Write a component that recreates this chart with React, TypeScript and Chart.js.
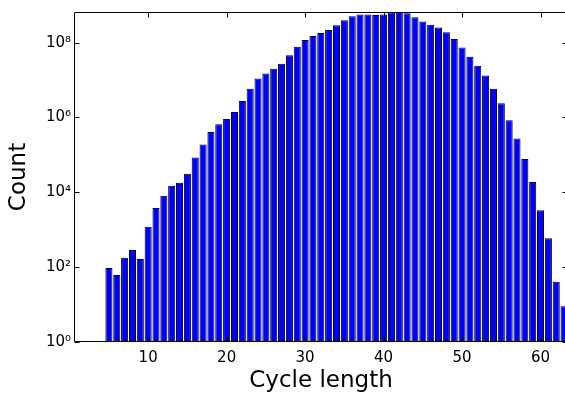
import React, { useEffect, useRef } from 'react';
import { Chart, registerables } from 'chart.js';

Chart.register(...registerables);

const cycleLengths = [
  5, 6, 7, 8, 9, 10, 11, 12, 13, 14,
  15, 16, 17, 18, 19, 20, 21, 22, 23, 24,
  25, 26, 27, 28, 29, 30, 31, 32, 33, 34,
  35, 36, 37, 38, 39, 40, 41, 42, 43, 44,
  45, 46, 47, 48, 49, 50, 51, 52, 53, 54,
  55, 56, 57, 58, 59, 60, 61, 62, 63,
];

const counts = [
  95, 62, 178, 286, 165, 1200, 3800, 8150, 15000, 18000,
  31600, 85000, 190000, 412000, 660000, 910000, 1.4e6, 2.75e6, 5.9e6, 1.1e7,
  1.5e7, 2.0e7, 2.74e7, 4.6e7, 7.8e7, 1.18e8, 1.5e8, 1.8e8, 2.17e8, 2.94e8,
  4.0e8, 5.1e8, 5.7e8, 5.7e8, 5.5e8, 5.7e8, 6.4e8, 6.6e8, 6.1e8, 4.8e8,
  3.7e8, 3.0e8, 2.56e8, 1.9e8, 1.26e8, 7.4e7, 4.2e7, 2.4e7, 1.32e7, 5.9e6,
  2.4e6, 8.5e5, 2.75e5, 7.8e4, 1.9e4, 3300, 590, 41, 9,
];

const xTickValues = [10, 20, 30, 40, 50, 60];
const yTickValues = [1, 1e2, 1e4, 1e6, 1e8];
const yTickLabels = ['10⁰', '10²', '10⁴', '10⁶', '10⁸'];

const xLabel = 'Cycle length';
const yLabel = 'Count';

const FONT = '"DejaVu Sans", "Liberation Sans", Arial, sans-serif';

const boxPlugin = {
  id: 'matlabBox',
  afterDatasetsDraw(chart: any) {
    const { ctx, chartArea: a, scales } = chart;
    const L = Math.floor(a.left) + 0.5;
    const R = Math.floor(a.right) - 0.5;
    const T = Math.floor(a.top) + 0.5;
    const B = Math.floor(a.bottom) - 0.5;
    const tl = 5;
    ctx.save();
    ctx.strokeStyle = '#000';
    ctx.lineWidth = 1;
    ctx.beginPath();
    ctx.moveTo(L, T);
    ctx.lineTo(R, T);
    ctx.lineTo(R, B);
    ctx.lineTo(L, B);
    ctx.closePath();
    const xs = scales.x;
    xs.ticks.forEach((t: any) => {
      const px = Math.round(xs.getPixelForValue(t.value)) + 0.5;
      ctx.moveTo(px, B);
      ctx.lineTo(px, B - tl);
      ctx.moveTo(px, T);
      ctx.lineTo(px, T + tl);
    });
    const ys = scales.y;
    ys.ticks.forEach((t: any) => {
      const py = Math.round(ys.getPixelForValue(t.value)) + 0.5;
      ctx.moveTo(L, py);
      ctx.lineTo(L + tl, py);
      ctx.moveTo(R, py);
      ctx.lineTo(R - tl, py);
    });
    ctx.stroke();
    ctx.restore();
  },
};

export default function App() {
  const canvasRef = useRef<HTMLCanvasElement | null>(null);

  useEffect(() => {
    const canvas = canvasRef.current;
    if (!canvas) return;
    const chart = new Chart(canvas, {
      type: 'bar',
      data: {
        datasets: [
          {
            data: cycleLengths.map((x, i) => ({ x, y: counts[i] })),
            backgroundColor: '#0000ff',
            borderColor: '#000000',
            borderWidth: 1,
            barPercentage: 0.9,
            categoryPercentage: 1,
          },
        ],
      },
      options: {
        responsive: false,
        animation: false,
        events: [],
        layout: { padding: { top: 9, left: 0, right: 1, bottom: 0 } },
        plugins: {
          legend: { display: false },
          tooltip: { enabled: false },
        },
        scales: {
          x: {
            type: 'linear',
            min: 0.55,
            max: 63.5,
            offset: false,
            grid: { display: false, drawTicks: false },
            border: { display: false },
            afterBuildTicks: (scale: any) => {
              scale.ticks = xTickValues.map((v) => ({ value: v }));
            },
            afterFit: (scale: any) => {
              scale.height = 53;
            },
            ticks: {
              padding: 7,
              color: '#000',
              font: { family: FONT, size: 15 },
              maxRotation: 0,
              autoSkip: false,
              callback: (v: any) => String(v),
            },
            title: {
              display: true,
              text: xLabel,
              color: '#000',
              font: { family: FONT, size: 23 },
              padding: { top: 0, bottom: 0 },
            },
          },
          y: {
            type: 'logarithmic',
            min: 1,
            max: 6.6e8,
            grid: { display: false, drawTicks: false },
            border: { display: false },
            afterBuildTicks: (scale: any) => {
              scale.ticks = yTickValues.map((v) => ({ value: v }));
            },
            afterFit: (scale: any) => {
              scale.width = 74;
            },
            ticks: {
              padding: 3,
              color: '#000',
              font: { family: FONT, size: 15 },
              autoSkip: false,
              callback: (v: any) => {
                const i = yTickValues.indexOf(Number(v));
                return i >= 0 ? yTickLabels[i] : '';
              },
            },
            title: {
              display: true,
              text: yLabel,
              color: '#000',
              font: { family: FONT, size: 23 },
              padding: { top: 5, bottom: 0 },
            },
          },
        },
      },
      plugins: [boxPlugin],
    } as any);
    return () => chart.destroy();
  }, []);

  return (
    <div
      style={{
        position: 'absolute',
        left: 0,
        top: 0,
        width: 565,
        height: 395,
        overflow: 'hidden',
        background: '#fff',
      }}
    >
      <canvas ref={canvasRef} width={569} height={395} style={{ display: 'block' }} />
    </div>
  );
}
